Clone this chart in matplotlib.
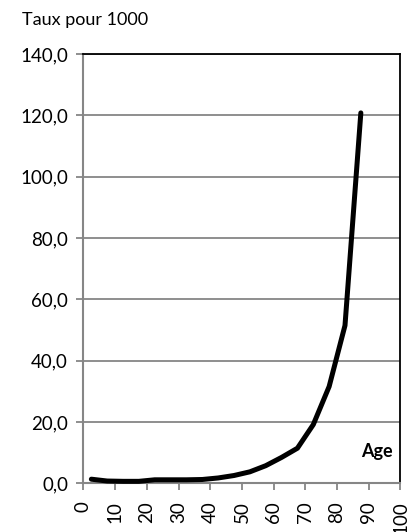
import matplotlib
matplotlib.use("Agg")
import matplotlib.pyplot as plt
from matplotlib.ticker import FuncFormatter

plt.rcParams["font.family"] = ["Lato", "DejaVu Sans"]

ages = [2.5, 7.5, 12.5, 17.5, 22.5, 27.5, 32.5, 37.5, 42.5,
        47.5, 52.5, 57.5, 62.5, 67.5, 72.5, 77.5, 82.5, 87.5]
taux = [1.4, 0.8, 0.7, 0.7, 1.2, 1.2, 1.2, 1.3, 1.8,
        2.6, 3.8, 5.8, 8.5, 11.5, 19.2, 31.6, 51.5, 120.8]
xticks = list(range(0, 101, 10))
yticks = [0, 20, 40, 60, 80, 100, 120, 140]

grey = "#868686"

fig = plt.figure(figsize=(4.15, 5.32), dpi=100)
ax = fig.add_axes([0.201, 0.0912, 0.764, 0.8073])

ax.plot(ages, taux, color="black", lw=3.6, solid_capstyle="round",
        solid_joinstyle="miter", clip_on=False, zorder=3)

ax.set_xlim(0, 100)
ax.set_ylim(0, 140)
ax.set_xticks(xticks)
ax.set_yticks(yticks)
ax.yaxis.set_major_formatter(FuncFormatter(lambda v, p: ("%.1f" % v).replace(".", ",")))
ax.set_xticklabels([str(t) for t in xticks], rotation=90)

ax.grid(axis="y", color=grey, lw=1.3)
ax.set_axisbelow(True)
for s in ["left", "bottom"]:
  ax.spines[s].set_color(grey)
  ax.spines[s].set_linewidth(1.5)
for s in ["top", "right"]:
  ax.spines[s].set_color("black")
  ax.spines[s].set_linewidth(1.3)

ax.tick_params(axis="both", colors=grey, direction="out", length=5, width=1.3,
               labelcolor="black", labelsize=13.5)
ax.tick_params(axis="x", pad=8)
ax.tick_params(axis="y", pad=6)

ax.text(97.5, 10.4, "Age", ha="right", va="center", fontweight="bold", fontsize=13)
fig.text(22 / 415, 1 - 20 / 532, "Taux pour 1000", ha="left", va="center", fontsize=13)

fig.savefig("out.png", dpi=100)
